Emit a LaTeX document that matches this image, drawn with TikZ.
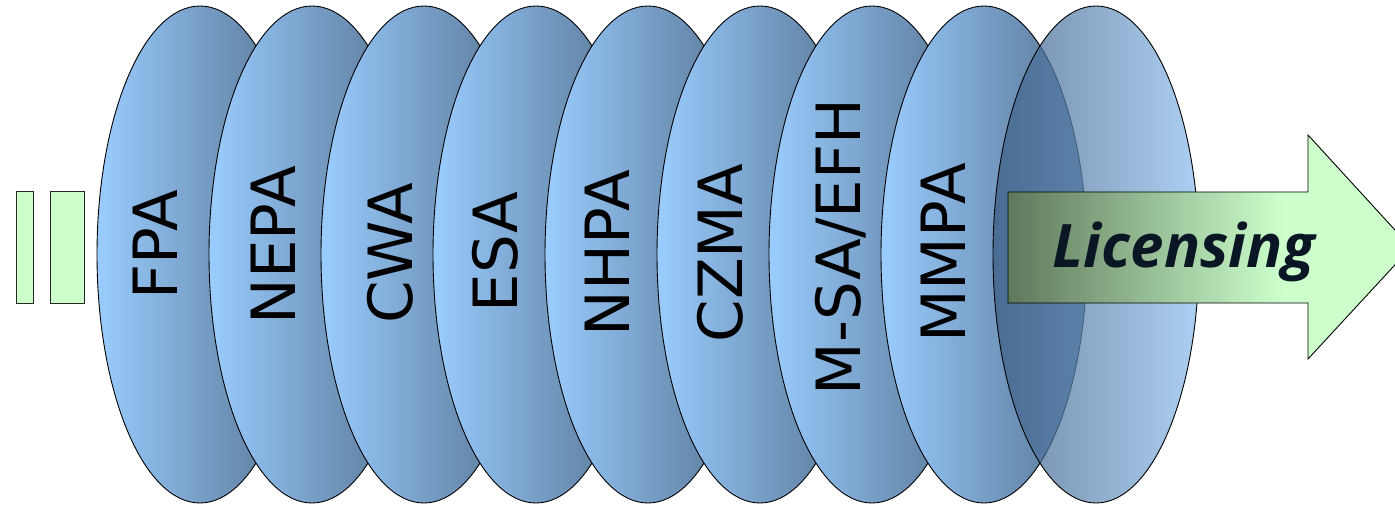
\documentclass[tikz,border=0pt]{standalone}
\usepackage{fontspec}
\usetikzlibrary{shapes.geometric}
\newfontfamily\lawfont{DejaVu Sans}
\newfontfamily\bannerfont{Open Sans}

\definecolor{discL}{HTML}{9ACDFF}
\definecolor{discR}{HTML}{55718F}
\definecolor{lastL}{HTML}{3A5B82}
\definecolor{lastR}{HTML}{8CBDEE}
\definecolor{mint}{HTML}{CCFFCC}
\definecolor{moss}{HTML}{5E785B}
\definecolor{ink}{HTML}{0A1624}

% arrow gradient: dark on the left, full mint from about two thirds onwards
\pgfdeclarehorizontalshading{arrowfade}{100bp}{%
  color(0bp)=(moss); color(25bp)=(moss); color(59bp)=(mint); color(100bp)=(mint)}

\tikzset{
  disc/.style={ellipse, draw=black, line width=0.9pt, inner sep=0pt,
    minimum width=206pt, minimum height=497pt,
    left color=discL, right color=discR},
  lastdisc/.style={disc, left color=lastL, right color=lastR,
    fill opacity=0.72},
  law/.style={rotate=90, anchor=base, inner sep=0pt,
    font=\lawfont\fontsize{61}{70}\selectfont},
  bar/.style={draw=black!85, line width=0.9pt, fill=mint},
}

\begin{document}
\begin{tikzpicture}[x=1pt, y=-1pt]
  \useasboundingbox (0,0) rectangle (1395,505);
  \clip (0,0) rectangle (1395,505);

  % two small bars on the left
  \draw[bar] (16.5,191) rectangle (33.5,303);
  \draw[bar] (50,191) rectangle (84.5,303);

  % stack of discs, each one on top of the previous
  \node[disc] (e1) at (200,254.5) {};
  \node[disc] (e2) at (312,254.5) {};
  \node[disc] (e3) at (424,254.5) {};
  \node[disc] (e4) at (536,254.5) {};
  \node[disc] (e5) at (648,254.5) {};
  \node[disc] (e6) at (760,254.5) {};
  \node[disc] (e7) at (872,254.5) {};
  \node[disc] (e8) at (984,254.5) {};
  \node[lastdisc] (e9) at (1096,254.5) {};

  % statute labels
  \node[law] (t1) at (177,244.5) {FPA};
  \node[law] (t2) at (295,245) {NEPA};
  \node[law] (t3) at (412,253) {CWA};
  \node[law] (t4) at (517,252) {ESA};
  \node[law] (t5) at (629,253) {NHPA};
  \node[law] (t6) at (742,253) {CZMA};
  \node[law] (t7) at (860,247) {M-SA/EFH};
  \node[law] (t8) at (965,253) {MMPA};

  % licensing arrow
  \draw[black, line width=0.9pt, shading=arrowfade]
    (1008,192) -- (1308,192) -- (1308,135) -- (1411,247.5)
    -- (1308,359) -- (1308,303) -- (1008,303) -- cycle;
  \node[anchor=base, inner sep=0pt, text=ink,
    font=\bannerfont\bfseries\itshape\fontsize{60}{70}\selectfont]
    (lic) at (1184,268) {Licensing};
\end{tikzpicture}
\end{document}
